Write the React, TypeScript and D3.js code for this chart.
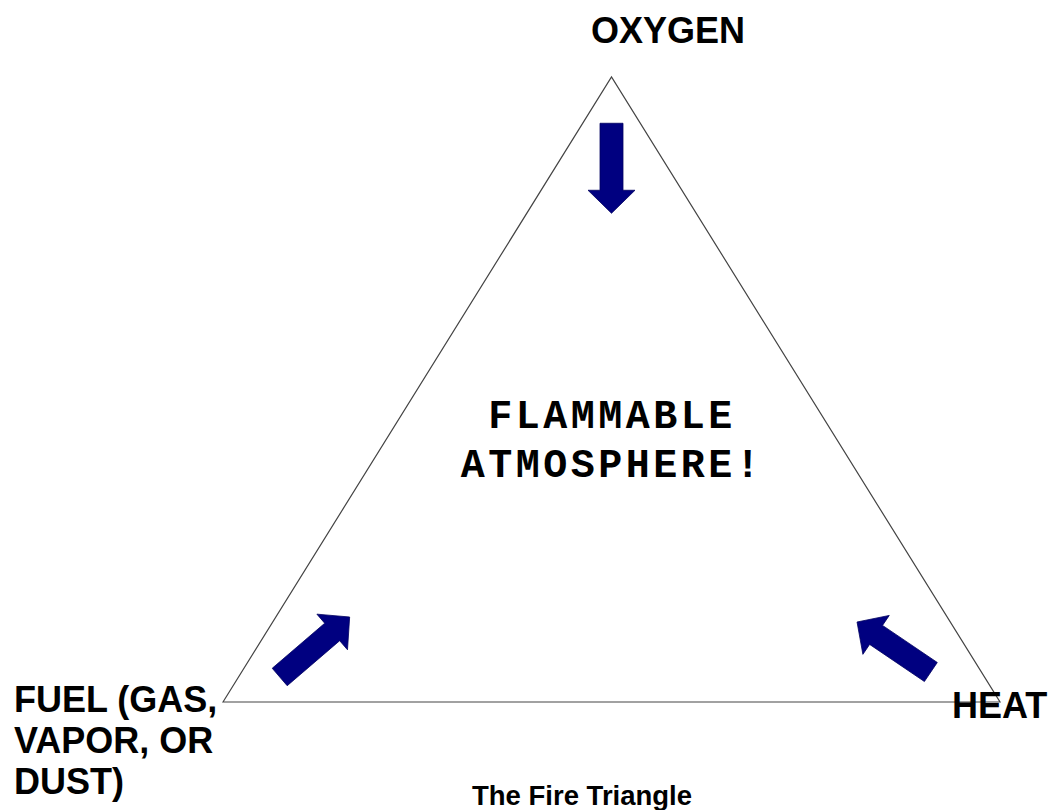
import React, { useRef, useEffect } from 'react';
import * as d3 from 'd3';

const W = 1050;
const H = 810;

// triangle corners in unit space: x 0..1 along base, y 0 = base, 1 = apex
const vertices: [number, number][] = [
  [0, 0],
  [0.5, 1],
  [1, 0],
];

// arrows pointing into the triangle: tail -> tip, unit space
const arrowNames = ['oxygen', 'fuel', 'heat'];
const arrowTails: [number, number][] = [
  [0.5, 0.926],
  [0.073, 0.04],
  [0.911, 0.048],
];
const arrowTips: [number, number][] = [
  [0.5, 0.782],
  [0.163, 0.136],
  [0.816, 0.128],
];

const fuelLines = ['FUEL (GAS,', 'VAPOR, OR', 'DUST)'];
const centerLines = ['FLAMMABLE', 'ATMOSPHERE!'];
const topLabel = 'OXYGEN';
const rightLabel = 'HEAT';
const caption = 'The Fire Triangle';

function arrowPath(x0: number, y0: number, x1: number, y1: number) {
  const shaftW = 23;
  const headW = 47;
  const headL = 23;
  const len = Math.hypot(x1 - x0, y1 - y0);
  const ux = (x1 - x0) / len;
  const uy = (y1 - y0) / len;
  const px = -uy;
  const py = ux;
  const bx = x1 - ux * headL;
  const by = y1 - uy * headL;
  const pts: [number, number][] = [
    [x0 + px * shaftW / 2, y0 + py * shaftW / 2],
    [bx + px * shaftW / 2, by + py * shaftW / 2],
    [bx + px * headW / 2, by + py * headW / 2],
    [x1, y1],
    [bx - px * headW / 2, by - py * headW / 2],
    [bx - px * shaftW / 2, by - py * shaftW / 2],
    [x0 - px * shaftW / 2, y0 - py * shaftW / 2],
  ];
  return d3.line()(pts) + 'Z';
}

export default function App() {
  const svgRef = useRef<SVGSVGElement>(null);

  useEffect(() => {
    const svg = d3.select(svgRef.current);
    svg.selectAll('*').remove();

    const x = d3.scaleLinear().domain([0, 1]).range([223, 1000]);
    const y = d3.scaleLinear().domain([0, 1]).range([702, 77]);

    svg.append('rect').attr('width', W).attr('height', H).attr('fill', '#fff');

    // triangle
    svg
      .append('path')
      .attr('d', d3.line()(vertices.map((v) => [x(v[0]), y(v[1])] as [number, number])) + 'Z')
      .attr('fill', 'none')
      .attr('stroke', '#444')
      .attr('stroke-width', 1.2);

    // arrows
    svg
      .selectAll('path.arrow')
      .data(arrowNames)
      .join('path')
      .attr('class', 'arrow')
      .attr('d', (_, i) =>
        arrowPath(x(arrowTails[i][0]), y(arrowTails[i][1]), x(arrowTips[i][0]), y(arrowTips[i][1]))
      )
      .attr('fill', '#000080')
      .attr('stroke', '#000060')
      .attr('stroke-width', 0.8);

    const sans = '"Liberation Sans", Arial, sans-serif';
    const mono = '"Liberation Mono", "Courier New", monospace';

    svg
      .append('text')
      .attr('x', 668)
      .attr('y', 43)
      .attr('text-anchor', 'middle')
      .attr('font-family', sans)
      .attr('font-weight', 'bold')
      .attr('font-size', 36)
      .text(topLabel);

    svg
      .append('text')
      .attr('x', 952)
      .attr('y', 718)
      .attr('font-family', sans)
      .attr('font-weight', 'bold')
      .attr('font-size', 36)
      .text(rightLabel);

    svg
      .selectAll('text.fuel')
      .data(fuelLines)
      .join('text')
      .attr('class', 'fuel')
      .attr('x', 14)
      .attr('y', (_, i) => 712 + i * 41)
      .attr('font-family', sans)
      .attr('font-weight', 'bold')
      .attr('font-size', 36)
      .text((d) => d);

    svg
      .selectAll('text.center')
      .data(centerLines)
      .join('text')
      .attr('class', 'center')
      .attr('x', 612)
      .attr('y', (_, i) => 428 + i * 49)
      .attr('text-anchor', 'middle')
      .attr('font-family', mono)
      .attr('font-weight', 'bold')
      .attr('font-size', 40)
      .attr('letter-spacing', 3.5)
      .text((d) => d);

    svg
      .append('text')
      .attr('x', 472)
      .attr('y', 805)
      .attr('font-family', sans)
      .attr('font-weight', 'bold')
      .attr('font-size', 27.5)
      .text(caption);
  }, []);

  return (
    <svg
      ref={svgRef}
      width={W}
      height={H}
      style={{ position: 'absolute', left: 0, top: 0 }}
    />
  );
}
